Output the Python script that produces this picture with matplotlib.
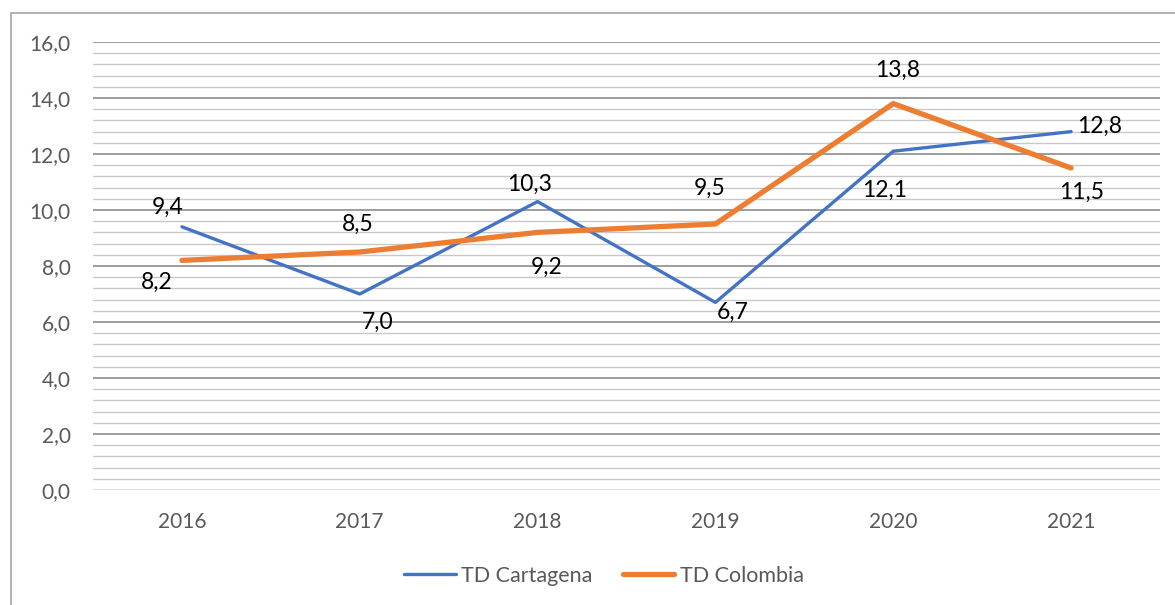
import matplotlib
matplotlib.use("Agg")
import matplotlib.pyplot as plt
from matplotlib.lines import Line2D
from matplotlib.patches import Rectangle

years = ["2016", "2017", "2018", "2019", "2020", "2021"]
cartagena = [9.4, 7.0, 10.3, 6.7, 12.1, 12.8]
colombia = [8.2, 8.5, 9.2, 9.5, 13.8, 11.5]
y_ticks = [0, 2, 4, 6, 8, 10, 12, 14, 16]

plt.rcParams['font.family'] = ['Lato', 'DejaVu Sans']

fig = plt.figure(figsize=(11.75, 6.05), dpi=100)
# outer chart border
fig.patches.append(Rectangle((11/1175, -0.1), 1.2, (605-13)/605 + 0.1, transform=fig.transFigure,
                             fill=False, edgecolor='#a6a6a6', linewidth=1.2))

ax = fig.add_axes([93/1175, 1 - 490/605, (1160-93)/1175, (490-42)/605])
x = list(range(len(years)))
ax.set_xlim(-0.5, len(years) - 0.5)
ax.set_ylim(0, 16)

# gridlines
minor = [i * 0.4 for i in range(41)]
for v in minor:
    if abs(v) < 1e-9:
        ax.axhline(v, color='#d9d9d9', lw=1.2, zorder=1)
    elif abs(v / 2 - round(v / 2)) < 1e-6:
        ax.axhline(v, color='#8c8c8c', lw=1.2, zorder=1)
    else:
        ax.axhline(v, color='#c8c8c8', lw=1.0, zorder=1)

ax.plot(x, cartagena, color='#4472C4', lw=2.4, solid_capstyle='round', solid_joinstyle='round', zorder=3)
ax.plot(x, colombia, color='#ED7D31', lw=3.8, solid_capstyle='round', solid_joinstyle='round', zorder=4)

for s in ax.spines.values():
    s.set_visible(False)
ax.set_yticks(y_ticks)
ax.set_yticklabels([f"{v:.1f}".replace('.', ',') for v in y_ticks])
ax.set_xticks(x)
ax.set_xticklabels(years)
ax.tick_params(length=0, labelsize=15, colors='#595959')
ax.tick_params(axis='y', pad=16)
ax.tick_params(axis='x', pad=16)

cart_off = [(-14, 19), (18, -28), (-8, 17), (17, -10), (-9, -39), (29, 5)]
col_off = [(-25, -22), (-2, 28), (9, -35), (-6, 36), (4, 33), (11, -24)]

def fmt(v):
    return f"{v:.1f}".replace('.', ',')

for i, v in enumerate(cartagena):
    ax.annotate(fmt(v), (x[i], v), xytext=cart_off[i], textcoords='offset pixels',
                ha='center', va='center', fontsize=16.5, color='black', zorder=5)
for i, v in enumerate(colombia):
    ax.annotate(fmt(v), (x[i], v), xytext=col_off[i], textcoords='offset pixels',
                ha='center', va='center', fontsize=16.5, color='black', zorder=5)

handles = [Line2D([], [], color='#4472C4', lw=2.4, solid_capstyle='round'),
           Line2D([], [], color='#ED7D31', lw=3.8, solid_capstyle='round')]
fig.legend(handles, ["TD Cartagena", "TD Colombia"], loc='center', bbox_to_anchor=(604/1175, 1 - 576/605),
           ncol=2, frameon=False, fontsize=15.5, labelcolor='#595959', handlelength=2.4,
           handletextpad=0.25, columnspacing=1.4)

fig.savefig("out.png", dpi=100)
